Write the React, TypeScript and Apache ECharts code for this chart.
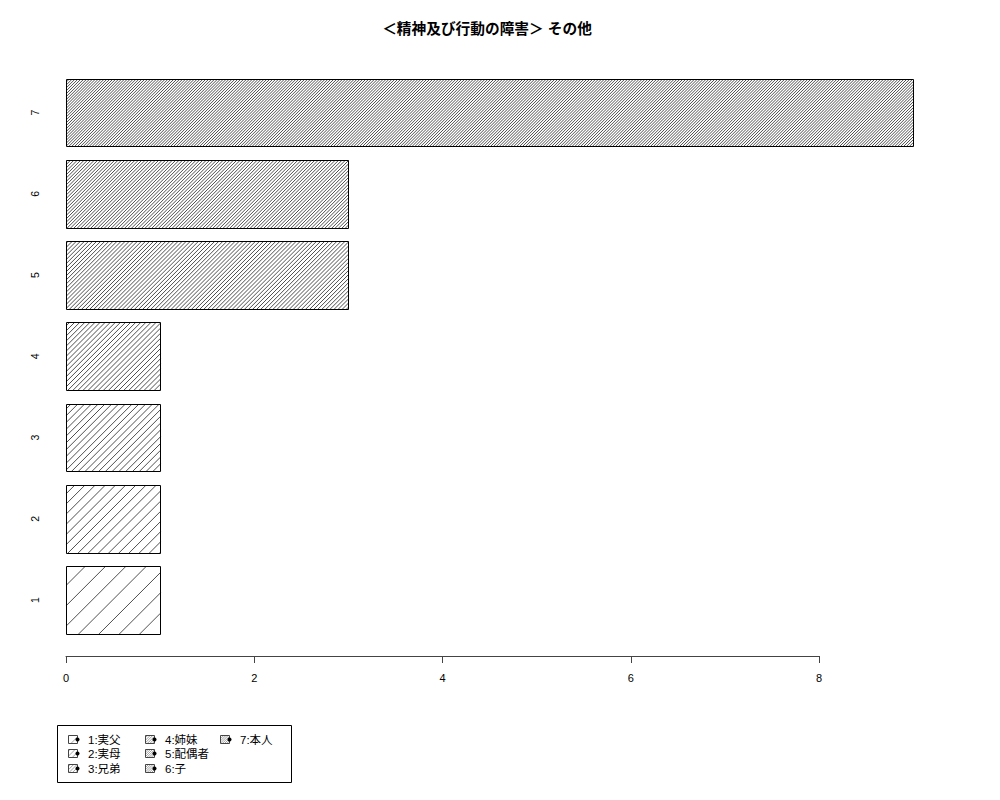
import React, { useEffect, useRef } from "react";
import * as echarts from "echarts";

const categories = ["1", "2", "3", "4", "5", "6", "7"];
const values = [1, 1, 1, 1, 3, 3, 9];
const densities = [5, 10, 15, 20, 25, 30, 35];
const legendLabels = ["1:実父", "2:実母", "3:兄弟", "4:姉妹", "5:配偶者", "6:子", "7:本人"];
const xTicks = [0, 2, 4, 6, 8];
const titleText = "＜精神及び行動の障害＞ その他";

const FONT = "'Liberation Sans', Arial, 'Noto Sans CJK JP', sans-serif";

function hatchLines(x0: number, y0: number, x1: number, y1: number, step: number, stroke: string, lw: number) {
  const out: any[] = [];
  const cmin = x0 + y0;
  const cmax = x1 + y1;
  for (let c = Math.ceil(cmin / step) * step; c <= cmax; c += step) {
    const lo = Math.max(x0, c - y1);
    const hi = Math.min(x1, c - y0);
    if (hi - lo > 0.2) {
      out.push({
        type: "line",
        shape: { x1: lo, y1: c - lo, x2: hi, y2: c - hi },
        style: { stroke, lineWidth: lw },
        silent: true,
      });
    }
  }
  return out;
}

export default function App() {
  const ref = useRef<HTMLDivElement>(null);
  useEffect(() => {
    document.body.style.margin = "0";
    const chart = echarts.init(ref.current!, null, { renderer: "svg" });

    const legendCols = [68, 145, 220];
    const legendRows = [739, 753, 768];
    const legendChildren: any[] = [
      {
        type: "rect",
        shape: { x: 57.5, y: 725.5, width: 234, height: 57 },
        style: { fill: "none", stroke: "#000", lineWidth: 1 },
      },
    ];
    legendLabels.forEach((lab, i) => {
      const col = Math.floor(i / 3);
      const row = i % 3;
      const sx = legendCols[col];
      const yc = legendRows[row];
      const step = 101.8 / densities[i] / 2;
      legendChildren.push(
        ...hatchLines(sx + 0.5, yc - 3.5, sx + 9.5, yc + 4.5, Math.max(step, 2.2), "#666", 0.6)
      );
      legendChildren.push({
        type: "rect",
        shape: { x: sx + 0.5, y: yc - 3.5, width: 9, height: 8 },
        style: { fill: "none", stroke: "#444", lineWidth: 1 },
      });
      legendChildren.push({
        type: "circle",
        shape: { cx: sx + 9.5, cy: yc + 0.5, r: 2 },
        style: { fill: "#000" },
      });
      legendChildren.push({
        type: "text",
        x: sx + 20,
        y: yc + 0.5,
        style: {
          text: lab,
          fill: "#000",
          font: `11.5px ${FONT}`,
          verticalAlign: "middle",
        },
      });
    });

    chart.setOption({
      animation: false,
      backgroundColor: "#fff",
      graphic: [
        {
          type: "text",
          x: 487,
          y: 29,
          style: {
            text: titleText,
            fill: "#000",
            font: `bold 14.7px ${FONT}`,
            align: "center",
            verticalAlign: "middle",
          },
        },
        { type: "group", children: legendChildren },
      ],
      grid: { left: 66, right: 181, top: 72, bottom: 159.4, containLabel: false },
      xAxis: {
        type: "value",
        min: 0,
        max: 8,
        interval: 2,
        offset: 15.4,
        axisLine: { show: true, lineStyle: { color: "#444", width: 1 } },
        axisTick: { show: true, length: 7, lineStyle: { color: "#444", width: 1 } },
        axisLabel: {
          color: "#000",
          fontSize: 11,
          fontFamily: FONT,
          margin: 16,
          customValues: xTicks,
        },
        splitLine: { show: false },
      },
      yAxis: {
        type: "category",
        data: categories,
        axisLine: { show: false },
        axisTick: { show: false },
        axisLabel: {
          rotate: 90,
          color: "#000",
          fontSize: 10.5,
          fontFamily: FONT,
          margin: 26,
        },
      },
      series: [
        {
          type: "custom",
          clip: false,
          data: values.map((v, i) => [v, i]),
          encode: { x: 0, y: 1 },
          renderItem: (params: any, api: any) => {
            const idx = api.value(1);
            const v = api.value(0);
            const start = api.coord([0, idx]);
            const end = api.coord([v, idx]);
            const band = api.size([0, 1])[1];
            const h = band / 1.2;
            const x0 = Math.round(start[0]) + 0.5;
            const x1 = Math.round(end[0]) + 0.5;
            const y0 = Math.round(start[1] - h / 2) + 0.5;
            const y1 = Math.round(start[1] + h / 2) + 0.5;
            const step = 101.8 / densities[params.dataIndex];
            const children: any[] = hatchLines(x0, y0, x1, y1, step, "#222", 0.8);
            children.push({
              type: "rect",
              shape: { x: x0, y: y0, width: x1 - x0, height: y1 - y0 },
              style: { fill: "none", stroke: "#000", lineWidth: 1 },
            });
            return { type: "group", children };
          },
        },
      ],
    });
    return () => chart.dispose();
  }, []);
  return <div ref={ref} style={{ width: 1000, height: 800 }} />;
}
